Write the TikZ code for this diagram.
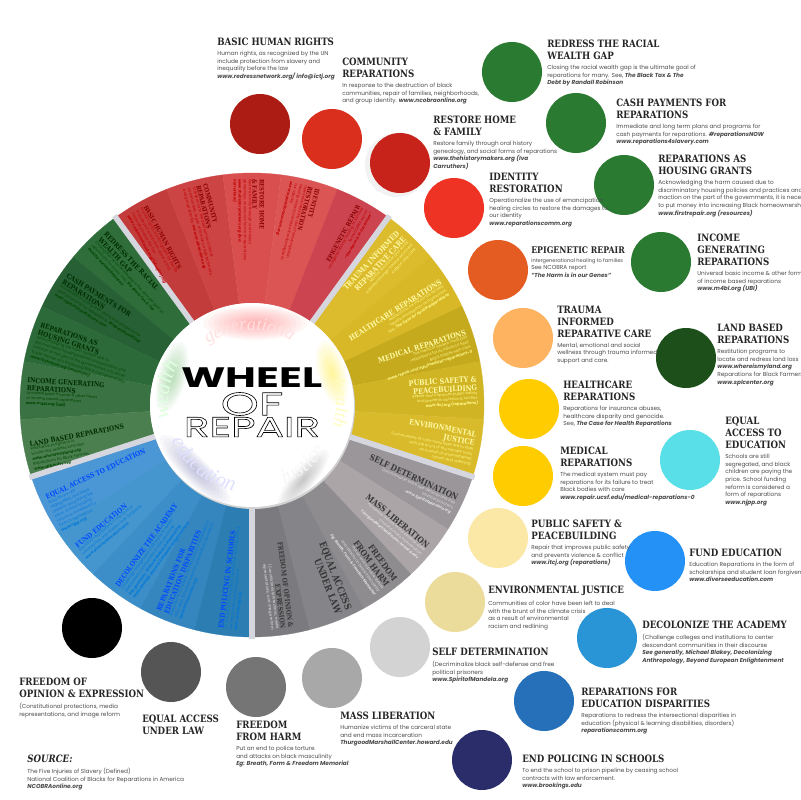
\documentclass[tikz,border=0pt]{standalone}
\usepackage{fontspec}
\setmainfont{Poppins}
\newfontfamily\headfont[FakeStretch=0.855]{DejaVu Serif}
\newfontfamily\titlefont[FakeStretch=1.5]{Poppins}
\newfontfamily\wordfont{Liberation Serif}
\usetikzlibrary{calc,positioning,decorations.text}

% disc colours
\definecolor{cbasic}{HTML}{AD1C14}
\definecolor{ccommunity}{HTML}{DB2F1D}
\definecolor{crestore}{HTML}{C8231A}
\definecolor{cidentity}{HTML}{EE3224}
\definecolor{cepigen}{HTML}{E45C22}
\definecolor{cwealth}{HTML}{2A7A32}
\definecolor{cland}{HTML}{1C4F1A}
\definecolor{ctrauma}{HTML}{FDB35F}
\definecolor{chealth}{HTML}{FFCC00}
\definecolor{cpublic}{HTML}{FBE8A6}
\definecolor{cenviron}{HTML}{ECDC9C}
\definecolor{cself}{HTML}{D3D3D3}
\definecolor{cmass}{HTML}{A8A8A8}
\definecolor{cfreedom}{HTML}{757575}
\definecolor{cequal}{HTML}{555555}
\definecolor{cend}{HTML}{2B2D6B}
\definecolor{crepedu}{HTML}{2670BA}
\definecolor{cdecol}{HTML}{2994D6}
\definecolor{cfund}{HTML}{2391F5}
\definecolor{ceduc}{HTML}{59DFE8}
\definecolor{gapgray}{HTML}{D6D6DF}

\tikzset{
	disc/.style={circle,minimum size=60*0.025cm,inner sep=0pt},
	headline/.style={font=\headfont\bfseries\fontsize{7.2}{8.5}\selectfont,align=left,inner sep=0pt,anchor=north west,text=black!85},
	blurb/.style={font=\fontsize{4.1}{5.45}\selectfont,align=left,inner sep=0pt,anchor=north west,text=black!70},
	wheelin/.style={inner sep=0pt,align=left,anchor=south west},
	wheelout/.style={inner sep=0pt,align=right,anchor=south east},
	smalltext/.style={font=\fontsize{2.7}{3.6}\selectfont,inner sep=0pt,align=#1},
	gapline/.style={color=gapgray,line width=4pt},
}
\newcommand\site[1]{{\bfseries\itshape #1}}
\newcommand\wheelhd[2]{\headfont\bfseries\fontsize{#1}{#2}\selectfont}
\newcommand\wheelslice[2]{\fill[#2,draw=#2,line width=.2pt] (#1-7.2:102) arc[start angle=#1-7.2,end angle=#1+7.2,radius=102] -- (#1+7.2:232) arc[start angle=#1+7.2,end angle=#1-7.2,radius=232] -- cycle;}
\newcommand\glowword[5]{\path[decorate,decoration={text along path,text align=center,text={|\wordfont\itshape\fontsize{#5}{#5}\selectfont\color{wordcol}|#4}}] (#1:#3) arc[start angle=#1,end angle=#2,radius=#3];}
\newcommand\softpatch[6]{\foreach \k in {1,...,10} \fill[#6,opacity=.045] (#1,#2) ellipse [x radius=#3*\k/10,y radius=#4*\k/10,rotate=#5];}

% the texts, used in the wheel and in the list
\newcommand\txtbasic{Human rights, as recognized by the UN\\include protection from slavery and\\inequality before the law\\\site{www.redressnetwork.org/ info@ictj.org}}
\newcommand\txtcommunity{In response to the destruction of black\\communities, repair of families, neighborhoods,\\and group identity. \site{www.ncobraonline.org}}
\newcommand\txtrestore{Restore family through oral history\\genealogy, and social forms of reparations\\\site{www.thehistorymakers.org (Iva}\\\site{Carruthers)}}
\newcommand\txtidentity{Operationalize the use of emancipation\\healing circles to restore the damages to\\our identity\\\site{www.reparationscomm.org}}
\newcommand\txtepigen{Intergenerational healing to families\\See NCOBRA report\\\site{"The Harm is in our Genes"}}
\newcommand\txtredress{Closing the racial wealth gap is the ultimate goal of\\reparations for many. See, \site{The Black Tax \& The}\\\site{Debt by Randall Robinson}}
\newcommand\txtcash{Immediate and long term plans and programs for\\cash payments for reparations. \site{\#reparationsNOW}\\\site{www.reparations4slavery.com}}
\newcommand\txthousing{Acknowledging the harm caused due to\\discriminatory housing policies and practices and\\inaction on the part of the governments, it is neces\\to put money into increasing Black homeownership\\\site{www.firstrepair.org (resources)}}
\newcommand\txtincome{Universal basic income \& other forms\\of income based reparations\\\site{www.m4bl.org (UBI)}}
\newcommand\txtland{Restitution programs to\\locate and redress land loss\\\site{www.whereismyland.org}\\Reparations for Black Farmers\\\site{www.splcenter.org}}
\newcommand\txttrauma{Mental, emotional and social\\wellness through trauma informed\\support and care.}
\newcommand\txthealth{Reparations for insurance abuses,\\healthcare disparity and genocide.\\See, \site{The Case for Health Reparations}}
\newcommand\txtmedical{The medical system must pay\\reparations for its failure to treat\\Black bodies with care\\\site{www.repair.ucsf.edu/medical-reparations-0}}
\newcommand\txtpublic{Repair that improves public safety\\and prevents violence \& conflict\\\site{www.itcj.org (reparations)}}
\newcommand\txtenviron{Communities of color have been left to deal\\with the brunt of the climate crisis\\as a result of environmental\\racism and redlining}
\newcommand\txtself{(Decriminalize black self-defense and free\\political prisoners\\\site{www.SpiritofMandela.org}}
\newcommand\txtmass{Humanize victims of the carceral state\\and end mass incarceration\\\site{ThurgoodMarshallCenter.howard.edu}}
\newcommand\txtfreedom{Put an end to police torture\\and attacks on black masculinity\\\site{Eg: Breath, Form \& Freedom Memorial}}
\newcommand\txtopinion{(Constitutional protections, media\\representations, and image reform}
\newcommand\txteduc{Schools are still\\segregated, and black\\children are paying the\\price. School funding\\reform is considered  a\\form of reparations\\\site{www.njpp.org}}
\newcommand\txtfund{Education Reparations in the form of\\scholarships and student loan forgivene\\\site{www.diverseeducation.com}}
\newcommand\txtdecol{(Challenge colleges and institutions to center\\descendant communities in their discourse\\\site{See generally, Michael Blakey, Decolonizing}\\\site{Anthropology, Beyond European Enlightenment}}
\newcommand\txtrepedu{Reparations to redress the intersectional disparities in\\education (physical \& learning disabilities, disorders)\\\site{reparationscomm.org}}
\newcommand\txtend{To end the school to prison pipeline by ceasing school\\contracts with law enforcement.\\\site{www.brookings.edu}}
\newcommand\txtsource{The Five Injuries of Slavery (Defined)\\National Coalition of Blacks for Reparations in America\\\site{NCOBRAonline.org}}

\begin{document}
\begin{tikzpicture}[x=0.025cm,y=0.025cm]
	\useasboundingbox (0,0) rectangle (800,-800);
	\fill[white] (0,0) rectangle (800,-800);
	% the wheel
	\begin{scope}[shift={(252,-405)}]
		\foreach \ang/\col in {118.8/C33C3C,104.4/CC4444,90/D94F4F,75.6/DC5555,61.2/CC4450,
			133.2/2F6E3B,147.6/266034,162/2D6A39,176.4/3A7243,190.8/4C7F50,
			46.8/DCBB2C,32.4/D8B826,18/C5AA1D,3.6/D1B424,-10.8/D9BA2A,
			-25.2/9A9699,-39.6/ABA5A8,-54/8F8C8F,-68.4/858488,-82.8/7B7B7F,
			205.2/4B96D4,219.6/4596CF,234/3B8EC8,248.4/3585BE,262.8/2B7DB2}
		{
			\definecolor{slicecol}{HTML}{\col}
			\wheelslice{\ang}{slicecol}
		}
		\foreach \ang in {54,126,198,270,342}
			\draw[gapline] (\ang:98) -- (\ang:234);
		\fill[black!18] (1,-2) circle (102);
		\fill[white] (0,0) circle (102);
		% glow of the five words
		\begin{scope}
			\clip (0,0) circle (102);
			\softpatch{3}{82}{52}{17}{0}{red!75!white}
			\softpatch{-80}{28}{36}{14}{75}{green!55!black!70!white}
			\softpatch{80}{32}{34}{14}{-75}{yellow}
			\softpatch{-57}{-65}{48}{13}{-45}{blue!45!black!60!white}
			\softpatch{51}{-75}{38}{11}{50}{black!55}
		\end{scope}
		\colorlet{wordcol}{red!12!white}
		\glowword{122}{58}{75}{generational}{13}
		\colorlet{wordcol}{green!12!white}
		\glowword{194}{146}{84}{wealth}{15}
		\colorlet{wordcol}{yellow!25!white}
		\glowword{20}{-18}{84}{health}{13}
		\colorlet{wordcol}{blue!12!white}
		\glowword{200}{262}{88}{education}{15}
		\colorlet{wordcol}{black!3}
		\glowword{-74}{-26}{86}{justice}{15}
		% labels in the slices
		\foreach \name/\ang/\rot/\ttl/\txt in {
			basic/118.8/-61.2/{BASIC HUMAN RIGHTS}/\txtbasic,
			community/104.4/-75.6/{COMMUNITY\\REPARATIONS}/\txtcommunity,
			restore/90/-90/{RESTORE HOME\\\& FAMILY}/\txtrestore,
			identity/75.6/-104.4/{IDENTITY\\RESTORATION}/\txtidentity}
		{
			\node[wheelin,rotate=\rot,font=\wheelhd{4.4}{5.1},text=red!55!black] (\name-w) at (\ang:226) {\ttl};
			\node[smalltext=left,anchor=north west,rotate=\rot,text=red!75!black] (\name-b) at (\name-w.south west) {\txt};
		}
		\node[wheelout,rotate=61.2,font=\wheelhd{4.4}{5.1},text=red!55!black] (epigen-w) at (61.2:226) {EPIGENETIC REPAIR};
		\node[smalltext=right,anchor=north east,rotate=61.2,text=red!75!black] (epigen-b) at (epigen-w.south east) {\txtepigen};
		\foreach \name/\ang/\rot/\ttl/\txt in {
			redress/133.2/-46.8/{REDRESS THE RACIAL\\WEALTH GAP}/\txtredress,
			cash/147.6/-32.4/{CASH PAYMENTS FOR\\REPARATIONS}/\txtcash,
			housing/162/-18/{REPARATIONS AS\\HOUSING GRANTS}/\txthousing,
			income/176.4/-3.6/{INCOME GENERATING\\REPARATIONS}/\txtincome,
			land/190.8/10.8/{LAND BASED REPARATIONS}/\txtland}
		{
			\node[wheelin,rotate=\rot,font=\wheelhd{4.9}{5.6},text=green!18!black] (\name-w) at (\ang:226) {\ttl};
			\node[smalltext=left,anchor=north west,rotate=\rot,text=green!28!black] (\name-b) at (\name-w.south west) {\txt};
		}
		\foreach \name/\ang/\rot/\ttl/\txt in {
			trauma/46.8/46.8/{TRAUMA INFORMED\\REPARATIVE CARE}/\txttrauma,
			health/32.4/32.4/{HEALTHCARE REPARATIONS}/\txthealth,
			medical/18/18/{MEDICAL REPARATIONS}/\txtmedical,
			public/3.6/3.6/{PUBLIC SAFETY \&\\PEACEBUILDING}/\txtpublic,
			environ/-10.8/-10.8/{ENVIRONMENTAL\\JUSTICE}/\txtenviron}
		{
			\node[wheelout,rotate=\rot,font=\wheelhd{5.4}{6.2},text=yellow!35!white] (\name-w) at (\ang:226) {\ttl};
			\node[smalltext=right,anchor=north east,rotate=\rot,text=yellow!45!white] (\name-b) at (\name-w.south east) {\txt};
		}
		\foreach \name/\ang/\rot/\ttl/\txt/\hs/\hb in {
			self/-25.2/-25.2/{SELF DETERMINATION}/\txtself/6/6.9,
			mass/-39.6/-39.6/{MASS LIBERATION}/\txtmass/6/6.9,
			freedom/-54/-54/{FREEDOM\\FROM HARM}/\txtfreedom/6/6.9,
			equal/-68.4/-68.4/{EQUAL ACCESS\\UNDER LAW}/{}/6.8/7.8,
			opinion/-82.8/-82.8/{FREEDOM OF OPINION \&\\EXPRESSION}/\txtopinion/4.9/5.6}
		{
			\node[wheelout,rotate=\rot,font=\wheelhd{\hs}{\hb},text=black!78] (\name-w) at (\ang:226) {\ttl};
			\node[smalltext=right,anchor=north east,rotate=\rot,text=black!12] (\name-b) at (\name-w.south east) {\txt};
		}
		\foreach \name/\ang/\rot/\ttl/\txt in {
			educ/205.2/25.2/{EQUAL ACCESS TO EDUCATION}/\txteduc,
			fund/219.6/39.6/{FUND EDUCATION}/\txtfund,
			decol/234/54/{DECOLONIZE THE ACADEMY}/\txtdecol,
			repedu/248.4/68.4/{REPARATIONS FOR\\EDUCATION DISPARITIES}/\txtrepedu,
			end/262.8/82.8/{END POLICING IN SCHOOLS}/\txtend}
		{
			\node[wheelin,rotate=\rot,font=\wheelhd{5}{5.7},text=blue!70!cyan] (\name-w) at (\ang:226) {\ttl};
			\node[smalltext=left,anchor=north west,rotate=\rot,text=blue!45!cyan!85!black] (\name-b) at (\name-w.south west) {\txt};
		}
		% title
		\node[inner sep=0pt,font=\titlefont\bfseries\fontsize{20}{20}\selectfont] (wheeltitle) at (0,27) {WHEEL};
		\node[inner sep=0pt,font=\titlefont\fontsize{23}{23}\selectfont] (oftitle) at (0,1) {\special{pdf:code 1 Tr 0.45 w}OF\special{pdf:code 0 Tr}};
		\node[inner sep=0pt,font=\titlefont\fontsize{20}{20}\selectfont] (repairtitle) at (0,-22) {\special{pdf:code 1 Tr 0.45 w}REPAIR\special{pdf:code 0 Tr}};
	\end{scope}
	% soft shadow of one disc
	\fill[black!5] (397,-165) circle (32);
	% the discs
	\foreach \name/\cx/\cy/\col in {basic/260/-124/cbasic,community/332/-139/ccommunity,restore/400/-163/crestore,
		identity/454/-208/cidentity,epigen/498/-270/cepigen,redress/512/-72/cwealth,cash/576/-123/cwealth,
		housing/624/-185/cwealth,income/661/-262/cwealth,land/686/-358/cland,trauma/523/-338/ctrauma,
		health/529/-409/chealth,medical/523/-476/chealth,public/498/-538/cpublic,environ/455/-602/cenviron,
		self/400/-647/cself,mass/332/-678/cmass,freedom/256/-687/cfreedom,equal/171/-672/cequal,opinion/92/-628/black,
		educ/690/-460/ceduc,fund/655/-561/cfund,decol/607/-638/cdecol,repedu/544/-701/crepedu,end/482/-760/cend}
		\node[disc,fill=\col] (\name-d) at (\cx,\cy) {};
	% the list
	\foreach \name/\tx/\ty/\ttl/\txt in {
		basic/217/-38/{BASIC HUMAN RIGHTS}/\txtbasic,
		community/342/-58/{COMMUNITY\\REPARATIONS}/\txtcommunity,
		restore/433/-116/{RESTORE HOME\\\& FAMILY}/\txtrestore,
		identity/489/-173/{IDENTITY\\RESTORATION}/\txtidentity,
		epigen/531/-246/{\fontsize{6.5}{8}\selectfont EPIGENETIC REPAIR}/{\fontsize{3.6}{5.45}\selectfont\txtepigen},
		redress/547/-40/{REDRESS THE RACIAL\\WEALTH GAP}/\txtredress,
		cash/616/-99/{CASH PAYMENTS FOR\\REPARATIONS}/\txtcash,
		housing/658/-155/{REPARATIONS AS\\HOUSING GRANTS}/\txthousing,
		income/697/-234/{INCOME\\GENERATING\\REPARATIONS}/\txtincome,
		land/717/-324/{LAND BASED\\REPARATIONS}/\txtland,
		trauma/557/-306/{TRAUMA\\INFORMED\\REPARATIVE CARE}/\txttrauma,
		health/563/-381/{HEALTHCARE\\REPARATIONS}/\txthealth,
		medical/560/-447/{MEDICAL\\REPARATIONS}/\txtmedical,
		public/531/-520/{PUBLIC SAFETY \&\\PEACEBUILDING}/\txtpublic,
		environ/488/-586/{ENVIRONMENTAL JUSTICE}/\txtenviron,
		self/432/-648/{SELF DETERMINATION}/\txtself,
		mass/340/-712/{MASS LIBERATION}/\txtmass,
		freedom/236/-721/{FREEDOM\\FROM HARM}/\txtfreedom,
		equal/142/-715/{EQUAL ACCESS\\UNDER LAW}/{},
		opinion/19/-678/{FREEDOM OF\\OPINION \& EXPRESSION}/\txtopinion,
		educ/725/-417/{EQUAL\\ACCESS TO\\EDUCATION}/\txteduc,
		fund/689/-549/{FUND EDUCATION}/\txtfund,
		decol/642/-621/{DECOLONIZE THE ACADEMY}/\txtdecol,
		repedu/581/-688/{REPARATIONS FOR\\EDUCATION DISPARITIES}/\txtrepedu,
		end/522/-755/{END POLICING IN SCHOOLS}/\txtend,
		source/27/-755/{\itshape SOURCE:}/\txtsource}
	{
		\node[headline] (\name-h) at (\tx,\ty) {\ttl};
		\node[blurb] (\name-t) at ([yshift=-3.3pt]\name-h.south west) {\txt};
	}
\end{tikzpicture}
\end{document}
